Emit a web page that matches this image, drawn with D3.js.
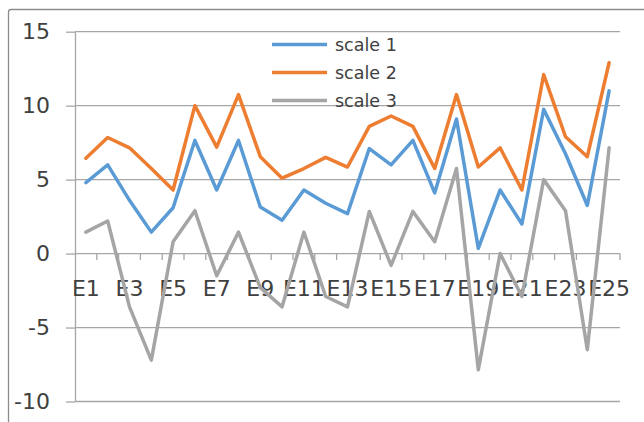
<!DOCTYPE html>
<html>
<head>
<meta charset="utf-8">
<script src="https://cdn.jsdelivr.net/npm/d3@7"></script>
<style>
  html, body { margin: 0; padding: 0; background: #fff; }
  svg { display: block; }
  text { font-family: "DejaVu Sans", sans-serif; fill: #404040; }
</style>
</head>
<body>
<svg id="chart" width="644" height="422"></svg>
<script>
// Categories E1..E25
const categories = ["E1","E2","E3","E4","E5","E6","E7","E8","E9","E10","E11","E12","E13",
                    "E14","E15","E16","E17","E18","E19","E20","E21","E22","E23","E24","E25"];
const scale1 = [4.8, 6.0, 3.6, 1.45, 3.1, 7.65, 4.3, 7.65, 3.15, 2.25, 4.3, 3.4, 2.7,
                7.1, 6.0, 7.65, 4.1, 9.1, 0.35, 4.3, 2.0, 9.75, 6.75, 3.25, 11.0];
const scale2 = [6.45, 7.85, 7.15, 5.75, 4.3, 10.0, 7.2, 10.75, 6.55, 5.1, 5.75, 6.5, 5.85,
                8.6, 9.3, 8.6, 5.75, 10.75, 5.85, 7.15, 4.3, 12.1, 7.9, 6.55, 12.9];
const scale3 = [1.45, 2.2, -3.6, -7.2, 0.8, 2.9, -1.5, 1.45, -2.3, -3.6, 1.45, -2.9, -3.6,
                2.85, -0.8, 2.85, 0.8, 5.75, -7.85, 0.0, -2.9, 5.0, 2.9, -6.5, 7.15];
const seriesNames = ["scale 1", "scale 2", "scale 3"];
const seriesColors = ["#5B9BD5", "#ED7D31", "#A5A5A5"];
const yTicks = [-10, -5, 0, 5, 10, 15];

const svg = d3.select("#chart");
const plot = { left: 75, right: 620, top: 31.7, bottom: 401.5 };

const x = d3.scaleBand().domain(categories).range([plot.left, plot.right]).paddingInner(0).paddingOuter(0);
const cx = c => x(c) + x.bandwidth() / 2;
const y = d3.scaleLinear().domain([-10, 15]).range([plot.bottom, plot.top]);

// Chart frame
svg.append("path")
  .attr("d", `M8.5,422 L8.5,12 Q8.5,9.5 11,9.5 L644,9.5`)
  .attr("fill", "none").attr("stroke", "#8c8c8c").attr("stroke-width", 1.3);

// Horizontal gridlines
svg.append("g").selectAll("line").data(yTicks).join("line")
  .attr("x1", plot.left).attr("x2", plot.right)
  .attr("y1", d => y(d)).attr("y2", d => y(d))
  .attr("stroke", "#a6a6a6").attr("stroke-width", 1.3);

// Vertical value axis with outside ticks (plain hyphen for negatives)
const yAxis = svg.append("g")
  .attr("transform", `translate(${plot.left},0)`)
  .call(d3.axisLeft(y).tickValues(yTicks).tickFormat(d => String(d))
    .tickSize(9).tickSizeOuter(0).tickPadding(16));
yAxis.select(".domain").attr("stroke", "#a6a6a6").attr("stroke-width", 1.3);
yAxis.selectAll(".tick line").attr("stroke", "#a6a6a6").attr("stroke-width", 1.3);
yAxis.selectAll(".tick text")
  .attr("font-size", 22).attr("font-family", "DejaVu Sans, sans-serif").attr("fill", "#404040");

// Category tick marks at band boundaries along the zero line
const boundaries = categories.map(c => x(c)).concat([x(categories[categories.length - 1]) + x.bandwidth()]);
svg.append("g").selectAll("line").data(boundaries.slice(1)).join("line")
  .attr("x1", d => d).attr("x2", d => d)
  .attr("y1", y(0)).attr("y2", y(0) + 6.5)
  .attr("stroke", "#a6a6a6").attr("stroke-width", 1.3);

// Category labels, every other one
svg.append("g").selectAll("text")
  .data(categories.filter((c, i) => i % 2 === 0)).join("text")
  .attr("x", d => cx(d)).attr("y", 296)
  .attr("text-anchor", "middle").attr("font-size", 22)
  .text(d => d);

// Series lines
const allSeries = [scale1, scale2, scale3];
const line = d3.line().x((d, i) => cx(categories[i])).y(d => y(d));
svg.append("g").selectAll("path").data(allSeries).join("path")
  .attr("d", d => line(d))
  .attr("fill", "none")
  .attr("stroke", (d, i) => seriesColors[i])
  .attr("stroke-width", 3.5)
  .attr("stroke-linejoin", "round").attr("stroke-linecap", "round");

// Legend
const legendRows = [44.5, 72.5, 100.5];
const legend = svg.append("g").selectAll("g").data(seriesNames).join("g")
  .attr("transform", (d, i) => `translate(0,${legendRows[i]})`);
legend.append("line")
  .attr("x1", 272).attr("x2", 327).attr("y1", 0).attr("y2", 0)
  .attr("stroke", (d, i) => seriesColors[i]).attr("stroke-width", 3.5);
legend.append("text")
  .attr("x", 335).attr("y", 0).attr("dy", "0.35em")
  .attr("font-size", 17.5)
  .text(d => d);
</script>
</body>
</html>
